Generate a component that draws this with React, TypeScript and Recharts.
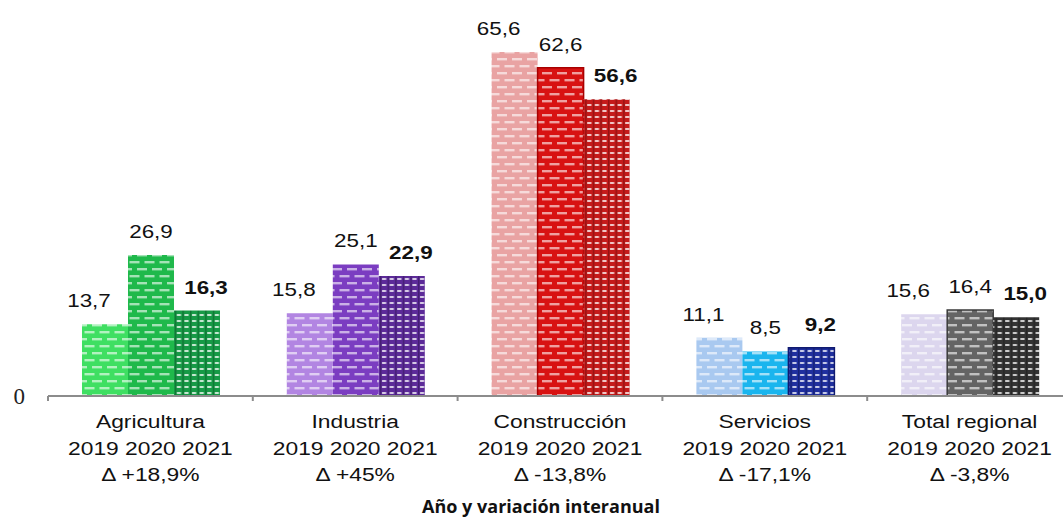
import { Bar, BarChart, Cell, LabelList, Label, XAxis, YAxis } from "recharts";

const CATEGORIES = ["Agricultura", "Industria", "Construcción", "Servicios", "Total regional"];
const DELTAS = ["+18,9%", "+45%", "-13,8%", "-17,1%", "-3,8%"];
const YEAR_LINE = "2019 2020 2021";
const V2019 = [13.7, 15.8, 65.6, 11.1, 15.6];
const V2020 = [26.9, 25.1, 62.6, 8.5, 16.4];
const V2021 = [16.3, 22.9, 56.6, 9.2, 15.0];
const Y_TICKS = [0];

const FILL_2019 = ["#3fdf62", "#b285e2", "#e9a3a3", "#a9c9f0", "#dcd6ee"];
const FILL_2020 = ["#1fb94b", "#7b3dc1", "#d81212", "#1ab5ee", "#646464"];
const FILL_2021 = ["#169a46", "#5c2a99", "#c51a1a", "#1f2f9f", "#333333"];
const STROKE_2020 = ["none", "none", "#a80000", "none", "#3a3a3a"];
const STROKE_2021 = ["none", "none", "none", "#101a70", "none"];

const data = CATEGORIES.map((name, i) => ({
  name,
  y2019: V2019[i],
  y2020: V2020[i],
  y2021: V2021[i],
}));

const fmt = (v: number) => v.toFixed(1).replace(".", ",");
const SANS = '"Liberation Sans", Arial, sans-serif';

// brick-like dashes used by 2019 and 2020 bars
function BrickPattern({ id, color }: { id: string; color: string }) {
  return (
    <pattern id={id} width={15} height={14} patternUnits="userSpaceOnUse">
      <rect width={15} height={14} fill={color} />
      <rect x={2} y={2} width={10} height={2.4} fill="rgba(255,255,255,0.6)" />
      <rect x={-5.5} y={9} width={10} height={2.4} fill="rgba(255,255,255,0.6)" />
      <rect x={9.5} y={9} width={10} height={2.4} fill="rgba(255,255,255,0.6)" />
    </pattern>
  );
}

// denser grid for the 2021 bars
function GridPattern({ id, color }: { id: string; color: string }) {
  return (
    <pattern id={id} width={7.6} height={6} patternUnits="userSpaceOnUse">
      <rect width={7.6} height={6} fill={color} />
      <rect x={2} y={2} width={4.2} height={2} fill="rgba(255,255,255,0.75)" />
      <rect x={0} y={0} width={1.4} height={6} fill="rgba(0,0,0,0.25)" />
    </pattern>
  );
}

function makeLabel(bold: boolean, dx: number) {
  return (props: any) => {
    const { x, y, width, value } = props;
    const cx = Number(x) + Number(width) / 2 + dx;
    const cy = Number(y) - 17;
    return (
      <text
        transform={`translate(${cx},${cy}) scale(1.18,1)`}
        textAnchor="middle"
        fontSize={19}
        fontWeight={bold ? 700 : 400}
        fontFamily={SANS}
        fill="#111"
      >
        {fmt(Number(value))}
      </text>
    );
  };
}

function CategoryTick(props: any) {
  const { x, y, payload, index } = props;
  const off = payload.offset ?? 0;
  const i = CATEGORIES.indexOf(payload.value);
  return (
    <g>
      <line x1={x - off} x2={x - off} y1={y} y2={y + 5} stroke="#8c8c8c" strokeWidth={2} />
      {index === CATEGORIES.length - 1 && (
        <line x1={x + off} x2={x + off} y1={y} y2={y + 5} stroke="#8c8c8c" strokeWidth={2} />
      )}
      <g transform={`translate(${x},${y}) scale(1.2,1)`}>
        <text textAnchor="middle" fontSize={19} fontFamily={SANS} fill="#111">
          <tspan x={0} y={32}>{payload.value}</tspan>
          <tspan x={0} y={59}>{YEAR_LINE}</tspan>
          <tspan x={0} y={85}>{`Δ ${DELTAS[i]}`}</tspan>
        </text>
      </g>
    </g>
  );
}

export default function App() {
  return (
    <div
      style={{
        position: "absolute",
        left: 0,
        top: 0,
        width: 1063,
        height: 520,
        overflow: "hidden",
        background: "#fff",
      }}
    >
      <BarChart
        width={1080}
        height={520}
        data={data}
        margin={{ top: 29, right: 8, left: 0, bottom: 0 }}
        barCategoryGap="16.6%"
        barGap={0}
      >
        <defs>
          {CATEGORIES.map((_, i) => (
            <BrickPattern key={`a${i}`} id={`p2019-${i}`} color={FILL_2019[i]} />
          ))}
          {CATEGORIES.map((_, i) => (
            <BrickPattern key={`b${i}`} id={`p2020-${i}`} color={FILL_2020[i]} />
          ))}
          {CATEGORIES.map((_, i) => (
            <GridPattern key={`c${i}`} id={`p2021-${i}`} color={FILL_2021[i]} />
          ))}
        </defs>
        <XAxis
          dataKey="name"
          height={124}
          interval={0}
          tickSize={0}
          tickMargin={0}
          tickLine={false}
          axisLine={{ stroke: "#8c8c8c", strokeWidth: 2 }}
          tick={<CategoryTick />}
        >
          <Label
            value="Año y variación interanual"
            position="insideBottom"
            offset={7}
            dx={-19}
            style={{ fontFamily: '"Open Sans", sans-serif', fontWeight: 700, fontSize: 18, fill: "#111" }}
          />
        </XAxis>
        <YAxis
          domain={[0, 70]}
          ticks={Y_TICKS}
          width={48}
          axisLine={false}
          tickLine={false}
          tickSize={0}
          tickMargin={23}
          tick={{ fontSize: 23, fontFamily: '"Liberation Serif", serif', fill: "#222" }}
        />
        <Bar dataKey="y2019" isAnimationActive={false}>
          {CATEGORIES.map((_, i) => (
            <Cell key={i} fill={`url(#p2019-${i})`} />
          ))}
          <LabelList dataKey="y2019" content={makeLabel(false, -16)} />
        </Bar>
        <Bar dataKey="y2020" isAnimationActive={false}>
          {CATEGORIES.map((_, i) => (
            <Cell key={i} fill={`url(#p2020-${i})`} stroke={STROKE_2020[i]} strokeWidth={1.5} />
          ))}
          <LabelList dataKey="y2020" content={makeLabel(false, 0)} />
        </Bar>
        <Bar dataKey="y2021" isAnimationActive={false}>
          {CATEGORIES.map((_, i) => (
            <Cell key={i} fill={`url(#p2021-${i})`} stroke={STROKE_2021[i]} strokeWidth={1.5} />
          ))}
          <LabelList dataKey="y2021" content={makeLabel(true, 9)} />
        </Bar>
      </BarChart>
    </div>
  );
}
